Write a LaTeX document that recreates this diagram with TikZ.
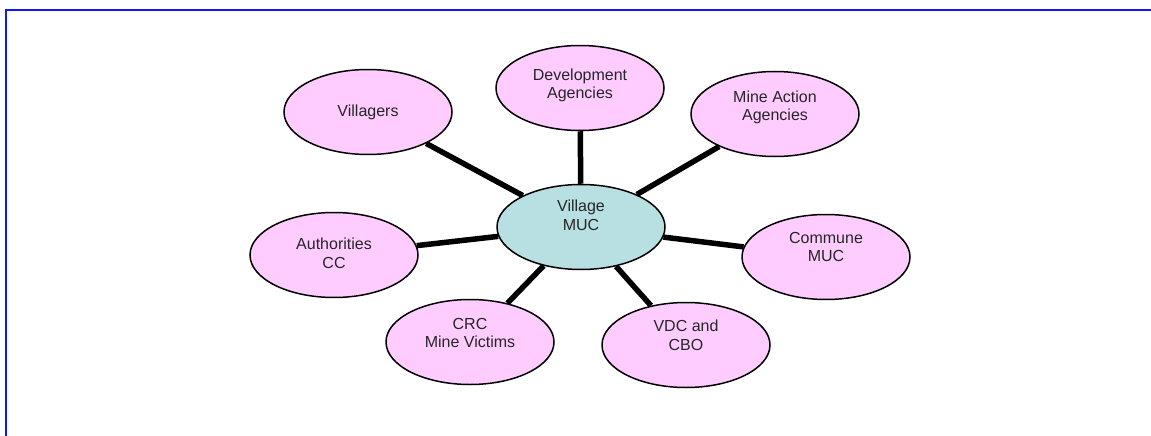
\documentclass[tikz,border=0pt]{standalone}
\usepackage{fontspec}
\setmainfont{Liberation Sans}
\usetikzlibrary{shapes.geometric}
\definecolor{partypink}{RGB}{255,204,255}
\definecolor{hubteal}{RGB}{184,223,226}
\definecolor{frameblue}{RGB}{20,20,245}

\begin{document}
\begin{tikzpicture}[x=1pt,y=-1pt,
  party/.style={ellipse, draw=black, line width=1.5pt, fill=partypink,
    minimum width=168pt, minimum height=85pt, inner sep=0pt, align=center,
    font=\fontsize{16}{18.5}\selectfont, text=black!85},
  lift/.style={text depth=#1},
  link/.style={line width=5.5pt}]
\useasboundingbox (0,0) rectangle (1151,436);
\draw[frameblue, line width=2.5pt] (1160,10) -- (6,10) -- (6,445);
% hub and the groups around it
\node[party, fill=hubteal, lift=24pt] (hub) at (581,227) {Village\\MUC};
\node[party, lift=9pt] (dev) at (580,88) {Development\\Agencies};
\node[party] (vil) at (368,112) {Villagers};
\node[party, lift=17pt] (mine) at (775,114) {Mine Action\\Agencies};
\node[party, lift=4pt] (auth) at (334,255) {Authorities\\CC};
\node[party, lift=20pt] (comm) at (826,257) {Commune\\MUC};
\node[party, lift=18pt] (crc) at (470,342) {CRC\\Mine Victims};
\node[party, lift=20pt] (vdc) at (686,345) {VDC and\\CBO};
\foreach \n in {dev,vil,mine,auth,comm,crc,vdc}
  \draw[link] (hub) -- (\n);
\end{tikzpicture}
\end{document}
